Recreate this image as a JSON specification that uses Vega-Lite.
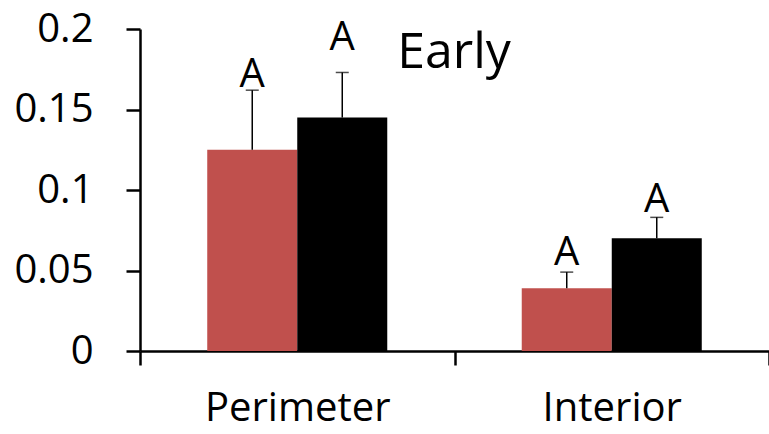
{
  "$schema": "https://vega.github.io/schema/vega-lite/v6.json",
  "autosize": {"type": "none"},
  "padding": {"left": 140, "top": 29, "right": 0, "bottom": 83},
  "width": 629,
  "height": 322,
  "background": "white",
  "config": {
    "view": {"stroke": null},
    "font": "Open Sans",
    "axis": {"domainColor": "black", "tickColor": "black", "labelColor": "black", "grid": false, "labelFont": "Open Sans", "labelFontSize": 40, "labelLimit": 400, "domainWidth": 2.5, "tickWidth": 2.5, "tickSize": 14}
  },
  "data": {
    "values": [
      {"location": "Perimeter", "group": "red", "value": 0.125, "upper": 0.162, "letter": "A", "letter_y": 0.164},
      {"location": "Perimeter", "group": "black", "value": 0.145, "upper": 0.173, "letter": "A", "letter_y": 0.187},
      {"location": "Interior", "group": "red", "value": 0.039, "upper": 0.049, "letter": "A", "letter_y": 0.0534},
      {"location": "Interior", "group": "black", "value": 0.07, "upper": 0.083, "letter": "A", "letter_y": 0.0863}
    ]
  },
  "encoding": {
    "x": {
      "field": "location", "type": "nominal", "sort": ["Perimeter", "Interior"],
      "scale": {"paddingInner": 0, "paddingOuter": 0},
      "axis": {"title": null, "labelAngle": 0, "tickBand": "extent", "labelPadding": 55, "labelBaseline": "alphabetic"}
    },
    "xOffset": {"field": "group", "type": "nominal", "sort": ["red", "black"], "scale": {"paddingInner": 0, "paddingOuter": 0.747}}
  },
  "layer": [
    {
      "mark": {"type": "bar"},
      "encoding": {
        "y": {"field": "value", "type": "quantitative", "scale": {"domain": [0, 0.2], "nice": false}, "axis": {"title": null, "values": [0, 0.05, 0.1, 0.15, 0.2], "labelPadding": 33, "format": "~g"}},
        "color": {"field": "group", "type": "nominal", "scale": {"domain": ["red", "black"], "range": ["#C0504D", "#000000"]}, "legend": null}
      }
    },
    {
      "mark": {"type": "rule", "color": "black", "strokeWidth": 1.5},
      "encoding": {
        "y": {"field": "value", "type": "quantitative"},
        "y2": {"field": "upper"}
      }
    },
    {
      "mark": {"type": "tick", "color": "black", "size": 13, "thickness": 1.5, "orient": "horizontal"},
      "encoding": {
        "y": {"field": "upper", "type": "quantitative"}
      }
    },
    {
      "mark": {"type": "text", "fontSize": 40, "baseline": "alphabetic", "align": "center", "color": "black", "font": "Open Sans"},
      "encoding": {
        "y": {"field": "letter_y", "type": "quantitative"},
        "text": {"field": "letter"}
      }
    },
    {
      "data": {"values": [{"label": "Early", "location": "Perimeter", "y": 0.1758}]},
      "mark": {"type": "text", "fontSize": 50, "align": "left", "baseline": "alphabetic", "dx": 100, "color": "black", "font": "Open Sans"},
      "encoding": {
        "x": {"field": "location", "type": "nominal"},
        "xOffset": null,
        "y": {"field": "y", "type": "quantitative"},
        "text": {"field": "label"}
      }
    }
  ]
}
